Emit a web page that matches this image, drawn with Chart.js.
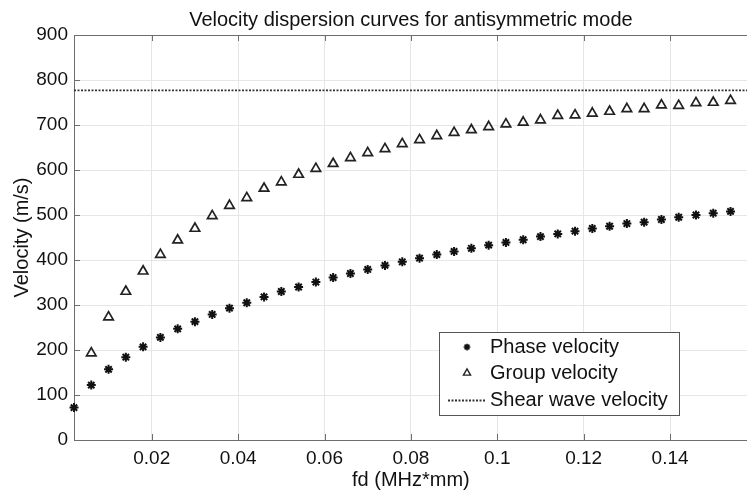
<!DOCTYPE html>
<html>
<head>
<meta charset="utf-8">
<script src="https://cdn.jsdelivr.net/npm/chart.js@4.4.1/dist/chart.umd.min.js"></script>
<style>
  html, body { margin: 0; padding: 0; background: #fff; overflow: hidden; }
  #wrap { width: 755px; height: 490px; }
</style>
</head>
<body>
<div id="wrap"><canvas id="velChart" width="755" height="490"></canvas></div>
<script>
// fd values (MHz*mm) and the two dispersion curves
const fd = [0.002, 0.006, 0.010, 0.014, 0.018, 0.022, 0.026, 0.030, 0.034, 0.038,
            0.042, 0.046, 0.050, 0.054, 0.058, 0.062, 0.066, 0.070, 0.074, 0.078,
            0.082, 0.086, 0.090, 0.094, 0.098, 0.102, 0.106, 0.110, 0.114, 0.118,
            0.122, 0.126, 0.130, 0.134, 0.138, 0.142, 0.146, 0.150, 0.154];
const phaseVel = [72, 122, 157, 184, 207, 228, 247, 263, 279, 293,
                  305, 318, 330, 340, 351, 361, 370, 379, 388, 396,
                  404, 412, 419, 426, 433, 439, 445, 452, 458, 464,
                  470, 475, 481, 484, 490, 495, 500, 504, 508];
const groupVel = [null, 193, 273, 330, 375, 412, 444, 470, 498, 521,
                  538, 559, 573, 590, 603, 614, 627, 638, 647, 658,
                  667, 676, 683, 689, 696, 702, 706, 711, 721, 722,
                  726, 730, 736, 736, 744, 743, 749, 750, 754];
const shearVel = 777;

const xRange = [0.002, 0.158];
const yRange = [0, 900];
const xTicks = [0.02, 0.04, 0.06, 0.08, 0.1, 0.12, 0.14];
const yTicks = [0, 100, 200, 300, 400, 500, 600, 700, 800, 900];

const titleText = 'Velocity dispersion curves for antisymmetric mode';
const FONT = '"Liberation Sans", Arial, Helvetica, sans-serif';
const axisColor = '#6e6e6e';

// box, inward tick marks, title and legend on top of the plot
const matlabish = {
  id: 'matlabish',
  afterDraw(chart) {
    const ctx = chart.ctx;
    const a = chart.chartArea;
    const xs = chart.scales.x, ys = chart.scales.y;
    ctx.save();
    ctx.strokeStyle = axisColor;
    ctx.lineWidth = 1;
    ctx.beginPath();
    ctx.moveTo(a.left, a.top + 0.5);
    ctx.lineTo(a.right, a.top + 0.5);
    xTicks.forEach(v => {
      const px = Math.round(xs.getPixelForValue(v)) + 0.5;
      ctx.moveTo(px, a.bottom); ctx.lineTo(px, a.bottom - 6);
      ctx.moveTo(px, a.top); ctx.lineTo(px, a.top + 6);
    });
    yTicks.forEach(v => {
      const py = Math.round(ys.getPixelForValue(v)) + 0.5;
      ctx.moveTo(a.left, py); ctx.lineTo(a.left + 6, py);
    });
    ctx.stroke();

    // title
    ctx.fillStyle = '#111';
    ctx.font = '20px ' + FONT;
    ctx.textAlign = 'center';
    ctx.textBaseline = 'alphabetic';
    ctx.fillText(titleText, (a.left + a.right) / 2, 26);

    // legend
    const lx = 439, ly = 332, lw = 240, lh = 83;
    ctx.fillStyle = '#fff';
    ctx.fillRect(lx, ly, lw, lh);
    ctx.strokeStyle = '#555';
    ctx.strokeRect(lx + 0.5, ly + 0.5, lw, lh);
    const rows = [347, 373, 400];
    chart.data.datasets.forEach((ds, i) => {
      const y = rows[i];
      ctx.strokeStyle = ds.borderColor;
      ctx.fillStyle = ds.backgroundColor;
      if (ds.showLine) {
        ctx.save();
        ctx.lineWidth = ds.borderWidth;
        ctx.setLineDash(ds.borderDash);
        ctx.beginPath();
        ctx.moveTo(448, y + 0.5);
        ctx.lineTo(486, y + 0.5);
        ctx.stroke();
        ctx.restore();
      } else {
        ctx.lineWidth = ds.borderWidth * 0.8;
        Chart.helpers.drawPoint(ctx, {
          pointStyle: ds.pointStyle,
          radius: ds.pointRadius * 0.75,
          rotation: 0,
          borderWidth: ds.borderWidth * 0.8
        }, 467, y);
      }
      ctx.fillStyle = '#111';
      ctx.font = '20px ' + FONT;
      ctx.textAlign = 'left';
      ctx.textBaseline = 'middle';
      ctx.fillText(ds.label, 490, y);
    });
    ctx.restore();
  }
};

new Chart(document.getElementById('velChart'), {
  type: 'scatter',
  data: {
    datasets: [
      {
        label: 'Phase velocity',
        data: fd.map((x, i) => ({ x: x, y: phaseVel[i] })),
        pointStyle: 'star',
        pointRadius: 4.5,
        borderColor: '#111',
        backgroundColor: '#111',
        borderWidth: 2,
        clip: false
      },
      {
        label: 'Group velocity',
        data: fd.map((x, i) => ({ x: x, y: groupVel[i] })),
        pointStyle: 'triangle',
        pointRadius: 5.5,
        borderColor: '#222',
        backgroundColor: 'rgba(0,0,0,0)',
        borderWidth: 1.7,
        clip: false
      },
      {
        label: 'Shear wave velocity',
        data: [{ x: xRange[0], y: shearVel }, { x: xRange[1], y: shearVel }],
        showLine: true,
        pointRadius: 0,
        borderColor: '#333',
        backgroundColor: '#333',
        borderWidth: 1.8,
        borderDash: [2, 1.5]
      }
    ]
  },
  options: {
    responsive: false,
    animation: false,
    events: [],
    layout: { padding: { top: 35, right: 0, bottom: 0, left: 0 } },
    plugins: {
      legend: { display: false },
      tooltip: { enabled: false },
      title: { display: false }
    },
    scales: {
      x: {
        type: 'linear',
        min: xRange[0],
        max: xRange[1],
        afterBuildTicks: s => { s.ticks = xTicks.map(v => ({ value: v })); },
        afterFit: s => { s.height = 50; },
        ticks: {
          color: '#111',
          font: { family: FONT, size: 19 },
          padding: 7,
          maxRotation: 0,
          autoSkip: false,
          callback: v => String(v)
        },
        grid: { color: '#e6e6e6', drawTicks: false },
        border: { display: true, color: axisColor },
        title: {
          display: true,
          text: 'fd (MHz*mm)',
          color: '#111',
          font: { family: FONT, size: 20, lineHeight: 1 },
          padding: { top: 0, bottom: 0 }
        }
      },
      y: {
        type: 'linear',
        min: yRange[0],
        max: yRange[1],
        afterBuildTicks: s => { s.ticks = yTicks.map(v => ({ value: v })); },
        afterFit: s => { s.width = 74; },
        ticks: {
          color: '#111',
          font: { family: FONT, size: 19 },
          padding: 6,
          autoSkip: false
        },
        grid: { color: '#e6e6e6', drawTicks: false },
        border: { display: true, color: axisColor },
        title: {
          display: true,
          text: 'Velocity (m/s)',
          color: '#111',
          font: { family: FONT, size: 20, lineHeight: 1 },
          padding: { top: 12, bottom: 0 }
        }
      }
    }
  },
  plugins: [matlabish]
});
</script>
</body>
</html>
